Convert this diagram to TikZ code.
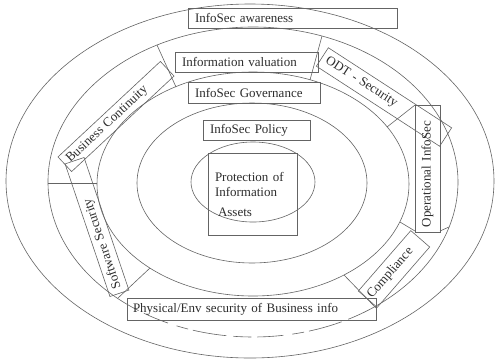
\documentclass[tikz,border=0pt]{standalone}
\usepackage{fontspec}
\setmainfont{Liberation Serif}
\definecolor{linegray}{RGB}{100,100,100}
\definecolor{textgray}{RGB}{45,45,45}
\begin{document}
\begin{tikzpicture}[x=1pt,y=-1pt,
  ring/.style={draw=linegray, line width=0.6pt},
  divider/.style={draw=linegray, line width=0.6pt},
  labelbox/.style={draw=linegray, line width=0.6pt, text=textgray,
    font=\fontsize{13}{15}\selectfont, inner xsep=7pt, inner ysep=0pt, align=left},
  tiltbox/.style={draw=linegray, line width=0.6pt, text=textgray,
    font=\fontsize{13}{15}\selectfont, inner xsep=5pt, inner ysep=0pt, align=left}
]
\useasboundingbox[fill=white] (0,0) rectangle (499,360);

% concentric rings
\draw[ring] (250,181) ellipse [x radius=244, y radius=177];
\draw[ring] (253,182) ++(125:205 and 155) arc[start angle=125, end angle=417, x radius=205, y radius=155];
\draw[ring, dash pattern=on 18pt off 7pt on 34pt off 5pt on 12pt off 9pt on 26pt off 6pt]
  (253,182) ++(57:205 and 155) arc[start angle=57, end angle=125, x radius=205, y radius=155];
\draw[ring] (253,184) ellipse [x radius=156, y radius=112];
\draw[ring] (252,183) ellipse [x radius=115, y radius=80];
\draw[ring] (253,182) ellipse [x radius=62, y radius=40];

% dividers across the second ring
\draw[divider] (48,183) -- (97,183);
\draw[divider] (157,45) -- (176,87);
\draw[divider] (322,36) -- (310,80);
\draw[divider] (387,127) -- (415,105);
\draw[divider] (400,222) -- (415,231);
\draw[divider] (440,231) -- (449,227);
\draw[divider] (344,275) -- (376,308);
\draw[divider] (150,268) -- (118,298);

% horizontal labels
\node[labelbox, text width=195pt, minimum height=20pt] (aware) at (292.5,18) {InfoSec awareness};
\node[labelbox, text width=129pt, minimum height=20pt] (valuation) at (246.5,62) {Information valuation};
\node[labelbox, text width=118pt, minimum height=21pt] (governance) at (254,92.5) {InfoSec Governance};
\node[labelbox, text width=93pt, minimum height=20pt] (policy) at (256.5,130) {InfoSec Policy};
\node[labelbox, text width=75pt, minimum height=82pt] (assets) at (252.5,194)
  {Protection of\\Information\\[5pt]\hspace{3pt}Assets};
\node[labelbox, inner xsep=6pt, text width=237pt, minimum height=22pt] (physical) at (251.5,309)
  {Physical/Env security of Business info};

% tilted labels
\node[tiltbox, rotate=43, text width=130pt, minimum height=20pt] (continuity) at (116,116.5) {Business Continuity};
\node[tiltbox, rotate=-33, text width=137pt, minimum height=22pt] (odt) at (384,97) {ODT - Security};
\node[tiltbox, rotate=90, text width=117pt, minimum height=25pt] (operational) at (427.5,168.5) {Operational InfoSec};
\node[tiltbox, rotate=49, inner xsep=3pt, text width=74pt, minimum height=25pt] (compliance) at (394,269) {Compliance};
\node[tiltbox, rotate=108.7, text width=130pt, minimum height=20pt] (software) at (97,227) {Software Security};
\end{tikzpicture}
\end{document}
